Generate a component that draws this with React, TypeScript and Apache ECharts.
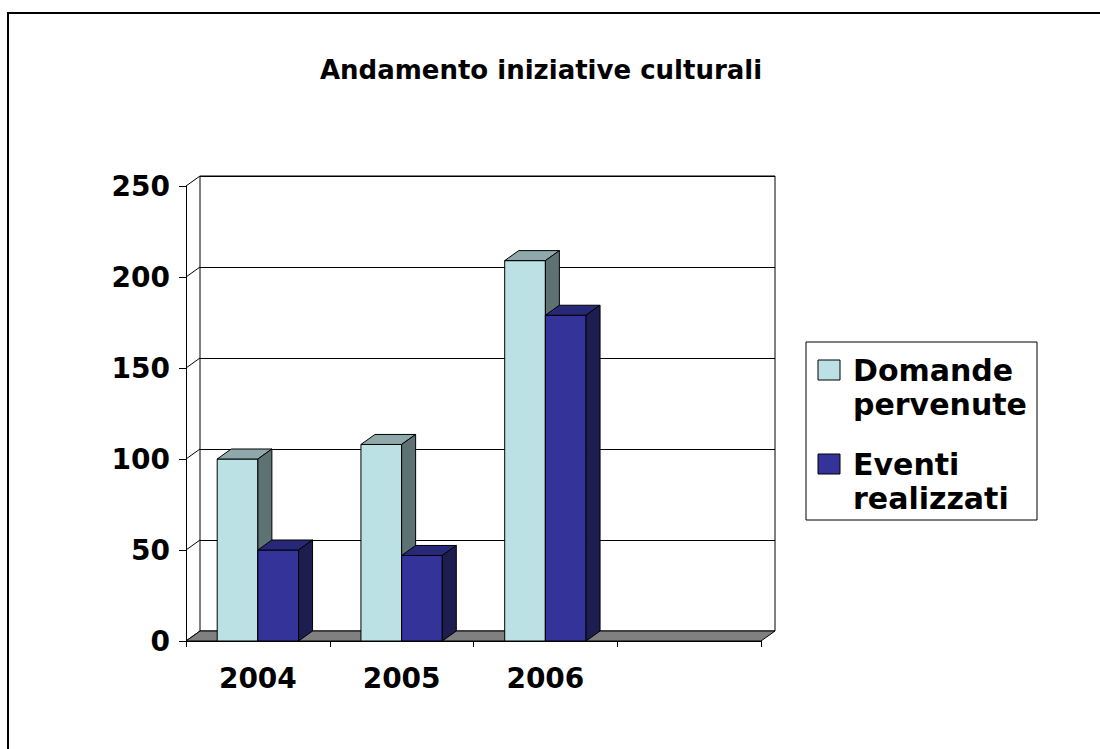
import React, { useEffect, useRef } from 'react';
import * as echarts from 'echarts';

const chartTitle = 'Andamento iniziative culturali';
const categories = ['2004', '2005', '2006', ''];
const seriesNames = ['Domande pervenute', 'Eventi realizzati'];
const domandePervenute = [100, 108, 209];
const eventiRealizzati = [50, 47, 179];
const yTicks = [0, 50, 100, 150, 200, 250];

const FONT = 'DejaVu Sans';
const DX = 14;
const DY = -10;
const BAR_FRAC = 0.283;

const faces = [
  { front: '#BCE1E4', top: '#8FA9AA', side: '#5E7273' },
  { front: '#333399', top: '#282878', side: '#1D1D4F' },
];

function barRenderer(sIdx: number) {
  return (params: any, api: any) => {
    const idx = api.value(0);
    const v = api.value(1);
    const base = api.coord([idx, 0]);
    const top = api.coord([idx, v]);
    const band = api.size([1, 0])[0];
    const w = band * BAR_FRAC;
    const x0 = sIdx === 0 ? base[0] - w : base[0];
    const yt = top[1];
    const yb = base[1];
    const c = faces[sIdx];
    const stroke = { stroke: '#000', lineWidth: 1 };
    return {
      type: 'group',
      children: [
        {
          type: 'rect',
          shape: { x: x0, y: yt, width: w, height: yb - yt },
          style: { fill: c.front, ...stroke },
        },
        {
          type: 'polygon',
          shape: { points: [[x0, yt], [x0 + w, yt], [x0 + w + DX, yt + DY], [x0 + DX, yt + DY]] },
          style: { fill: c.top, ...stroke },
        },
        {
          type: 'polygon',
          shape: { points: [[x0 + w, yt], [x0 + w + DX, yt + DY], [x0 + w + DX, yb + DY], [x0 + w, yb]] },
          style: { fill: c.side, ...stroke },
        },
      ],
    };
  };
}

function floorRenderer(params: any, api: any) {
  const cs = params.coordSys;
  const yb = api.coord([0, 0])[1];
  const xl = cs.x;
  const xr = cs.x + cs.width;
  const children: any[] = yTicks.map((t) => {
    const y = api.coord([0, t])[1];
    return {
      type: 'line',
      shape: { x1: xl, y1: y, x2: xl + DX, y2: y + DY },
      style: { stroke: '#000', lineWidth: 1 },
    };
  });
  children.push({
    type: 'polygon',
    shape: { points: [[xl, yb], [xr, yb], [xr + DX, yb + DY], [xl + DX, yb + DY]] },
    style: { fill: '#808080', stroke: '#000', lineWidth: 1 },
  });
  return { type: 'group', children };
}

export default function App() {
  const ref = useRef<HTMLDivElement>(null);
  useEffect(() => {
    if (!ref.current) return;
    const chart = echarts.init(ref.current, null, { renderer: 'svg' });
    const axisLabelStyle = { fontFamily: FONT, fontWeight: 'bold' as const, fontSize: 28, color: '#000' };
    const legendItems = seriesNames.map((name, i) => [
      {
        type: 'rect',
        shape: { x: 818, y: i === 0 ? 360 : 454, width: 22, height: 20 },
        style: { fill: faces[i].front, stroke: '#000', lineWidth: 1 },
      },
      {
        type: 'text',
        x: 853,
        y: i === 0 ? 353 : 447,
        style: {
          text: name.split(' ').join('\n'),
          font: `bold 30px "${FONT}"`,
          fill: '#000',
          lineHeight: 34,
          verticalAlign: 'top',
          align: 'left',
        },
      },
    ]).flat();

    chart.setOption({
      animation: false,
      backgroundColor: '#fff',
      title: {
        text: chartTitle,
        left: 536,
        top: 52,
        textAlign: 'center',
        textStyle: { fontFamily: FONT, fontWeight: 'bold', fontSize: 26, color: '#000' },
      },
      grid: [
        { left: 186, top: 186, width: 575, height: 455, show: false },
        {
          left: 200, top: 176, width: 575, height: 455, show: true,
          backgroundColor: '#fff', borderColor: '#000', borderWidth: 1,
        },
      ],
      xAxis: [
        {
          type: 'category', gridIndex: 0, data: categories,
          axisLine: { show: true, lineStyle: { color: '#000', width: 1 } },
          axisTick: { show: true, length: 6, lineStyle: { color: '#000' } },
          axisLabel: { ...axisLabelStyle, margin: 23 },
        },
        { type: 'category', gridIndex: 1, data: categories, show: false },
      ],
      yAxis: [
        {
          type: 'value', gridIndex: 0, min: 0, max: 250, interval: 50,
          axisLine: { show: true, lineStyle: { color: '#000', width: 1 } },
          axisTick: { show: true, length: 7, lineStyle: { color: '#000' } },
          axisLabel: { ...axisLabelStyle, margin: 16 },
          splitLine: { show: false },
        },
        {
          type: 'value', gridIndex: 1, min: 0, max: 250, interval: 50,
          axisLine: { show: false }, axisTick: { show: false }, axisLabel: { show: false },
          splitLine: { show: true, lineStyle: { color: '#000', width: 1 } },
        },
      ],
      series: [
        {
          type: 'custom', name: 'floor', xAxisIndex: 0, yAxisIndex: 0, z: 1,
          data: [[0, 0]], renderItem: floorRenderer, silent: true,
        },
        {
          type: 'custom', name: seriesNames[0], xAxisIndex: 0, yAxisIndex: 0, z: 2,
          data: domandePervenute.map((v, i) => [i, v]),
          encode: { x: 0, y: 1 },
          renderItem: barRenderer(0),
        },
        {
          type: 'custom', name: seriesNames[1], xAxisIndex: 0, yAxisIndex: 0, z: 3,
          data: eventiRealizzati.map((v, i) => [i, v]),
          encode: { x: 0, y: 1 },
          renderItem: barRenderer(1),
        },
      ],
      graphic: [
        {
          type: 'line',
          shape: { x1: 7, y1: 13, x2: 1100, y2: 13 },
          style: { stroke: '#000', lineWidth: 2 },
          silent: true,
        },
        {
          type: 'line',
          shape: { x1: 8, y1: 12, x2: 8, y2: 749 },
          style: { stroke: '#000', lineWidth: 2 },
          silent: true,
        },
        {
          type: 'rect',
          shape: { x: 806, y: 342, width: 231, height: 178 },
          style: { fill: '#fff', stroke: '#000', lineWidth: 1 },
        },
        ...legendItems,
      ],
    });
    return () => chart.dispose();
  }, []);
  return <div ref={ref} style={{ position: 'absolute', left: 0, top: 0, width: 1100, height: 749 }} />;
}
